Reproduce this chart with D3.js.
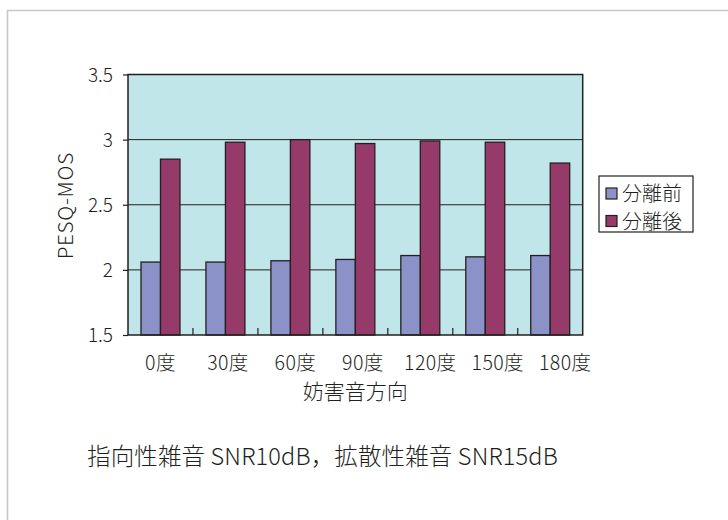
<!DOCTYPE html>
<html><head><meta charset="utf-8">
<script src="https://cdn.jsdelivr.net/npm/d3@7"></script>
<style>body{margin:0;background:#fff}svg{display:block}text{font-family:"Noto Sans CJK JP","Noto Sans",sans-serif;font-weight:300;fill:#231f20}</style>
</head><body><svg id="c" width="728" height="520"></svg>
<script>
const categories = ["0度","30度","60度","90度","120度","150度","180度"];
const seriesNames = ["分離前","分離後"];
const before = [2.06,2.06,2.07,2.08,2.11,2.10,2.11];
const after = [2.85,2.98,3.00,2.97,2.99,2.98,2.82];
const yTicks = [1.5,2,2.5,3,3.5];
const colors = ["#8a92c8","#963a69"];

const svg = d3.select("#c");
// outer frame
svg.append("path").attr("d","M7.5,520V10.5H728").attr("fill","none").attr("stroke","#c8c8c8").attr("stroke-width",1.6);

const L=128,R=582.7,T=74.5,B=335;
const x = d3.scaleBand().domain(categories).range([L,R]);
const y = d3.scaleLinear().domain([1.5,3.5]).range([B,T]);
const barW = x.bandwidth()*0.3;

svg.append("rect").attr("x",L).attr("y",T).attr("width",R-L).attr("height",B-T).attr("fill","#c1e6ea");
// grid
svg.append("g").selectAll("line").data(yTicks.slice(1,-1)).join("line")
  .attr("x1",L).attr("x2",R).attr("y1",d=>y(d)).attr("y2",d=>y(d)).attr("stroke","#231f20").attr("stroke-width",1);

const data = categories.map((c,i)=>({c,v:[before[i],after[i]]}));
const g = svg.append("g");
data.forEach(d=>{
  d.v.forEach((v,j)=>{
    const x0 = x(d.c)+x.bandwidth()/2 - barW + j*barW;
    g.append("rect").attr("x",x0).attr("y",y(v)).attr("width",barW).attr("height",B-y(v))
      .attr("fill",colors[j]).attr("stroke","#231f20").attr("stroke-width",1.3);
  });
});

// plot border
svg.append("rect").attr("x",L).attr("y",T).attr("width",R-L).attr("height",B-T).attr("fill","none").attr("stroke","#231f20").attr("stroke-width",1.5);

// y axis
const ya = svg.append("g").attr("transform",`translate(${L},0)`)
  .call(d3.axisLeft(y).tickValues(yTicks).tickSize(5).tickPadding(10).tickFormat(d3.format("")));
ya.select(".domain").remove();
ya.selectAll("line").attr("stroke","#231f20").attr("stroke-width",1.2);
ya.selectAll("text").attr("font-size",19).attr("fill","#231f20").attr("dy","0.36em");

// x ticks at band boundaries, inward
svg.append("g").selectAll("line").data(categories.slice(1)).join("line")
  .attr("x1",d=>x(d)).attr("x2",d=>x(d)).attr("y1",B).attr("y2",B-7).attr("stroke","#231f20").attr("stroke-width",1.2);
svg.append("g").selectAll("text").data(categories).join("text")
  .attr("x",(d,i)=>x(d)+x.bandwidth()/2 + i*2.5).attr("y",370).attr("text-anchor","middle")
  .attr("font-size",19.5).attr("letter-spacing",0.4).text(d=>d);

svg.append("text").attr("x",(L+R)/2).attr("y",399).attr("text-anchor","middle").attr("font-size",21).text("妨害音方向");
svg.append("text").attr("transform",`translate(73,${(T+B)/2+1}) rotate(-90)`).attr("text-anchor","middle").attr("font-size",20.5).attr("letter-spacing",0.8).text("PESQ-MOS");

// legend
const lg = svg.append("g");
lg.append("rect").attr("x",599).attr("y",176).attr("width",94).attr("height",56).attr("fill","#fff").attr("stroke","#231f20").attr("stroke-width",1.2);
seriesNames.forEach((s,i)=>{
  const cy = 193.5 + i*27.5;
  lg.append("rect").attr("x",606).attr("y",cy-5.5).attr("width",11).attr("height",11).attr("fill",colors[i]).attr("stroke","#231f20").attr("stroke-width",1.2);
  lg.append("text").attr("x",622).attr("y",cy+7.5).attr("font-size",20).text(s);
});

svg.append("text").attr("x",87).attr("y",465).attr("font-size",23.5).attr("letter-spacing",0.15).text("指向性雑音 SNR10dB，拡散性雑音 SNR15dB");
</script></body></html>
